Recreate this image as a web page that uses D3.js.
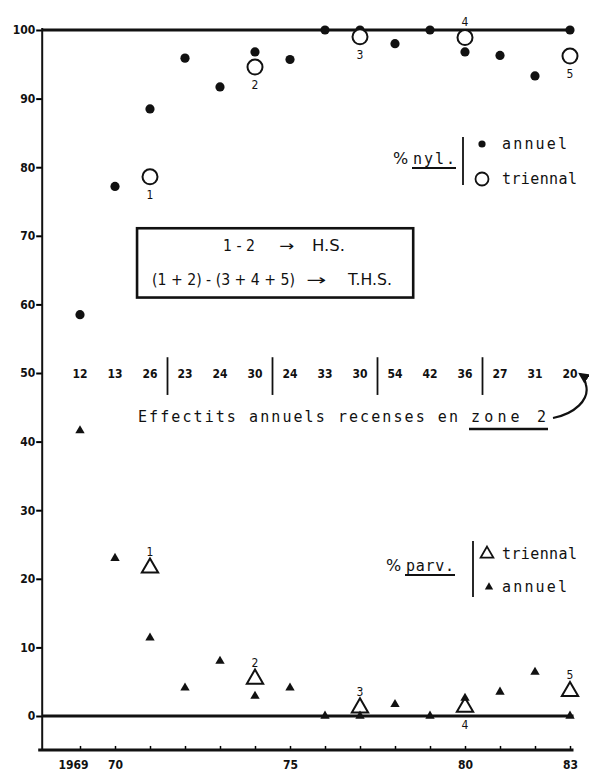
<!DOCTYPE html>
<html>
<head>
<meta charset="utf-8">
<script src="https://cdn.jsdelivr.net/npm/d3@7"></script>
<style>
  body { margin: 0; background: #fff; }
  svg { display: block; }
  .tick text { font-family: "DejaVu Sans Condensed", "DejaVu Sans", sans-serif; font-weight: bold; fill: #111; }
</style>
</head>
<body>
<svg id="chart" width="589" height="774"></svg>
<script>
const years = [1969, 1970, 1971, 1972, 1973, 1974, 1975, 1976, 1977, 1978, 1979, 1980, 1981, 1982, 1983];
const nylAnnuel = [58.5, 77.2, 88.5, 95.9, 91.7, 96.8, 95.7, 100, 100, 98.0, 100, 96.8, 96.3, 93.3, 100];
const parvAnnuel = [41.6, 23.0, 11.4, 4.1, 8.0, 2.9, 4.1, 0, 0, 1.7, 0, 2.6, 3.5, 6.4, 0];
const effectifs = [12, 13, 26, 23, 24, 30, 24, 33, 30, 54, 42, 36, 27, 31, 20];

const triYears = [1971, 1974, 1977, 1980, 1983];
const triLabels = ["1", "2", "3", "4", "5"];
const nylTriennal = [78.6, 94.6, 99.0, 98.9, 96.2];
const parvTriennal = [21.6, 5.4, 1.2, 1.3, 3.6];
// where the little number sits: -1 above the mark, 1 below
const nylLabelSide = [1, 1, 1, -1, 1];
const parvLabelSide = [-1, -1, -1, 1, -1];

const yTicks = [0, 10, 20, 30, 40, 50, 60, 70, 80, 90, 100];
const xLabels = { 1969: "1969", 1970: "70", 1975: "75", 1980: "80", 1983: "83" };

const svg = d3.select("#chart");
const font = '"DejaVu Sans Condensed", "DejaVu Sans", sans-serif';
const typeFont = '"DejaVu Sans Mono", monospace';
const ink = "#111";

const x = d3.scaleLinear().domain([1969, 1983]).range([80, 570]);
const y = d3.scaleLinear().domain([0, 100]).range([716, 30]);
const x0 = x(1967.92);
const yBottom = y(-4.95);

// y axis
const yAxis = svg.append("g")
  .attr("transform", `translate(${x0},0)`)
  .call(d3.axisLeft(y).tickValues(yTicks).tickSize(6).tickPadding(1).tickFormat(d3.format("d")));
yAxis.select(".domain").remove();
yAxis.selectAll(".tick line").attr("stroke-width", 2);
yAxis.selectAll(".tick text").attr("font-size", 12);
svg.append("line")
  .attr("x1", x0).attr("x2", x0)
  .attr("y1", y(100.3)).attr("y2", yBottom)
  .attr("stroke", ink).attr("stroke-width", 2);

// x axis, ticks pointing up
const xAxis = svg.append("g")
  .attr("transform", `translate(0,${yBottom})`)
  .call(d3.axisBottom(x).tickValues(years).tickSize(-4).tickPadding(8)
    .tickFormat(d => xLabels[d] || ""));
xAxis.select(".domain").remove();
xAxis.selectAll(".tick line").attr("stroke-width", 1.5);
xAxis.selectAll(".tick text").attr("font-size", 12).attr("dy", "0.9em")
  .attr("dx", d => d === 1969 ? -7 : 0);
svg.append("line")
  .attr("x1", x0 - 4).attr("x2", x(1983.1))
  .attr("y1", yBottom).attr("y2", yBottom)
  .attr("stroke", ink).attr("stroke-width", 3);

// thick reference lines at 100 and 0
[100, 0].forEach(v => {
  svg.append("line")
    .attr("x1", x0).attr("x2", x(1983.1))
    .attr("y1", y(v)).attr("y2", y(v))
    .attr("stroke", ink).attr("stroke-width", 3.2);
});

// % nyl. annual: filled dots
svg.append("g").selectAll("circle")
  .data(years.map((yr, i) => [yr, nylAnnuel[i]]))
  .enter().append("circle")
  .attr("cx", d => x(d[0]))
  .attr("cy", d => y(d[1]))
  .attr("r", 4.6)
  .attr("fill", ink);

// % nyl. triennial: open circles
svg.append("g").selectAll("circle")
  .data(triYears.map((yr, i) => [yr, nylTriennal[i]]))
  .enter().append("circle")
  .attr("cx", d => x(d[0]))
  .attr("cy", d => y(d[1]))
  .attr("r", 7.5)
  .attr("fill", "#fff")
  .attr("stroke", ink)
  .attr("stroke-width", 2);

svg.append("g").selectAll("text")
  .data(triYears.map((yr, i) => [yr, nylTriennal[i], triLabels[i], nylLabelSide[i]]))
  .enter().append("text")
  .attr("x", d => x(d[0]))
  .attr("y", d => y(d[1]) + d[3] * 17 + 5)
  .attr("text-anchor", "middle")
  .attr("font-family", font)
  .attr("font-size", 12)
  .attr("fill", ink)
  .text(d => d[2]);

// % parv. annual: filled triangles
const smallTri = d3.symbol(d3.symbolTriangle, 38);
const bigTri = d3.symbol(d3.symbolTriangle, 115);

svg.append("g").selectAll("path")
  .data(years.map((yr, i) => [yr, parvAnnuel[i]]))
  .enter().append("path")
  .attr("d", smallTri)
  .attr("transform", d => `translate(${x(d[0])},${y(d[1])})`)
  .attr("fill", ink);

// % parv. triennial: open triangles
svg.append("g").selectAll("path")
  .data(triYears.map((yr, i) => [yr, parvTriennal[i]]))
  .enter().append("path")
  .attr("d", bigTri)
  .attr("transform", d => `translate(${x(d[0])},${y(d[1])})`)
  .attr("fill", "none")
  .attr("stroke", ink)
  .attr("stroke-width", 2);

svg.append("g").selectAll("text")
  .data(triYears.map((yr, i) => [yr, parvTriennal[i], triLabels[i], parvLabelSide[i]]))
  .enter().append("text")
  .attr("x", d => x(d[0]))
  .attr("y", d => y(d[1]) + d[3] * 17 + 5)
  .attr("text-anchor", "middle")
  .attr("font-family", font)
  .attr("font-size", 12)
  .attr("fill", ink)
  .text(d => d[2]);

// yearly counts along the 50 line
svg.append("g").selectAll("text")
  .data(years.map((yr, i) => [yr, effectifs[i]]))
  .enter().append("text")
  .attr("x", d => x(d[0]))
  .attr("y", y(50) + 5)
  .attr("text-anchor", "middle")
  .attr("font-family", font)
  .attr("font-weight", "bold")
  .attr("font-size", 12)
  .attr("fill", ink)
  .text(d => d[1]);

svg.append("g").selectAll("line")
  .data([1971.5, 1974.5, 1977.5, 1980.5])
  .enter().append("line")
  .attr("x1", d => x(d)).attr("x2", d => x(d))
  .attr("y1", y(52.3)).attr("y2", y(46.8))
  .attr("stroke", ink).attr("stroke-width", 1.8);

// boxed legend H.S. / T.H.S.
svg.append("rect")
  .attr("x", x(1970.63)).attr("y", y(71.1))
  .attr("width", x(1978.52) - x(1970.63))
  .attr("height", y(61) - y(71.1))
  .attr("fill", "none")
  .attr("stroke", ink)
  .attr("stroke-width", 2.6);

// [text, x, baseline, width]
const boxText = [
  ["1 - 2", 223, 251, 32], ["\u2192", 279, 251, 15], ["H.S.", 312, 251, 33],
  ["(1 + 2) - (3 + 4 + 5)", 152, 285, 143], ["\u2192", 306, 285, 20], ["T.H.S.", 348, 285, 44]
];
svg.append("g").selectAll("text")
  .data(boxText)
  .enter().append("text")
  .attr("x", d => d[1]).attr("y", d => d[2])
  .attr("font-family", font)
  .attr("font-size", 15)
  .attr("textLength", d => d[3])
  .attr("lengthAdjust", "spacingAndGlyphs")
  .attr("fill", ink)
  .text(d => d[0]);

// caption for the counts
svg.append("text")
  .attr("x", 138).attr("y", 422)
  .attr("font-family", typeFont)
  .attr("font-size", 15)
  .attr("textLength", 320)
  .attr("lengthAdjust", "spacing")
  .attr("fill", ink)
  .text("Effectits annuels recenses en");
svg.append("text")
  .attr("x", 471).attr("y", 422)
  .attr("font-family", typeFont)
  .attr("font-size", 15)
  .attr("textLength", 75)
  .attr("lengthAdjust", "spacing")
  .attr("fill", ink)
  .text("zone 2");
svg.append("line")
  .attr("x1", 469).attr("x2", 548)
  .attr("y1", 429).attr("y2", 429)
  .attr("stroke", ink).attr("stroke-width", 2.4);

svg.append("defs").append("marker")
  .attr("id", "head")
  .attr("viewBox", "0 0 10 10")
  .attr("refX", 8).attr("refY", 5)
  .attr("markerWidth", 5).attr("markerHeight", 5)
  .attr("orient", "auto")
  .append("path")
  .attr("d", "M0,0 L10,5 L0,10 z")
  .attr("fill", ink);

svg.append("path")
  .attr("d", "M553,418 C574,414 590,400 586,385 C585,380 583,376 580,374")
  .attr("fill", "none")
  .attr("stroke", ink)
  .attr("stroke-width", 2.2)
  .attr("marker-end", "url(#head)");

// legend helpers
function legendLabel(xp, yp, word, w) {
  const g = svg.append("g");
  g.append("text").attr("x", xp).attr("y", yp)
    .attr("font-family", '"DejaVu Sans", sans-serif').attr("font-size", 16).attr("fill", ink).text("%");
  g.append("text").attr("x", xp + 20).attr("y", yp)
    .attr("font-family", typeFont).attr("font-size", 15)
    .attr("textLength", w).attr("lengthAdjust", "spacing")
    .attr("fill", ink).text(word);
  g.append("line")
    .attr("x1", xp + 19).attr("x2", xp + 21 + w)
    .attr("y1", yp + 4).attr("y2", yp + 4)
    .attr("stroke", ink).attr("stroke-width", 1.8);
}
function legendWord(xp, yp, word, w) {
  svg.append("text").attr("x", xp).attr("y", yp)
    .attr("font-family", typeFont).attr("font-size", 15)
    .attr("textLength", w).attr("lengthAdjust", "spacing")
    .attr("fill", ink).text(word);
}

// % nyl. legend
legendLabel(393, 164, "nyl.", 42);
svg.append("line").attr("x1", 463).attr("x2", 463).attr("y1", 137).attr("y2", 185)
  .attr("stroke", ink).attr("stroke-width", 1.8);
svg.append("circle").attr("cx", 482).attr("cy", 144).attr("r", 3.6).attr("fill", ink);
svg.append("circle").attr("cx", 482).attr("cy", 179).attr("r", 6.5)
  .attr("fill", "none").attr("stroke", ink).attr("stroke-width", 1.8);
legendWord(502, 149, "annuel", 65);
legendWord(502, 184, "triennal", 75);

// % parv. legend
legendLabel(386, 571, "parv.", 48);
svg.append("line").attr("x1", 473).attr("x2", 473).attr("y1", 541).attr("y2", 597)
  .attr("stroke", ink).attr("stroke-width", 1.8);
svg.append("path").attr("d", d3.symbol(d3.symbolTriangle, 70))
  .attr("transform", "translate(487,554)")
  .attr("fill", "none").attr("stroke", ink).attr("stroke-width", 1.8);
svg.append("path").attr("d", d3.symbol(d3.symbolTriangle, 30))
  .attr("transform", "translate(489,587)")
  .attr("fill", ink);
legendWord(502, 559, "triennal", 75);
legendWord(502, 592, "annuel", 65);
</script>
</body>
</html>
